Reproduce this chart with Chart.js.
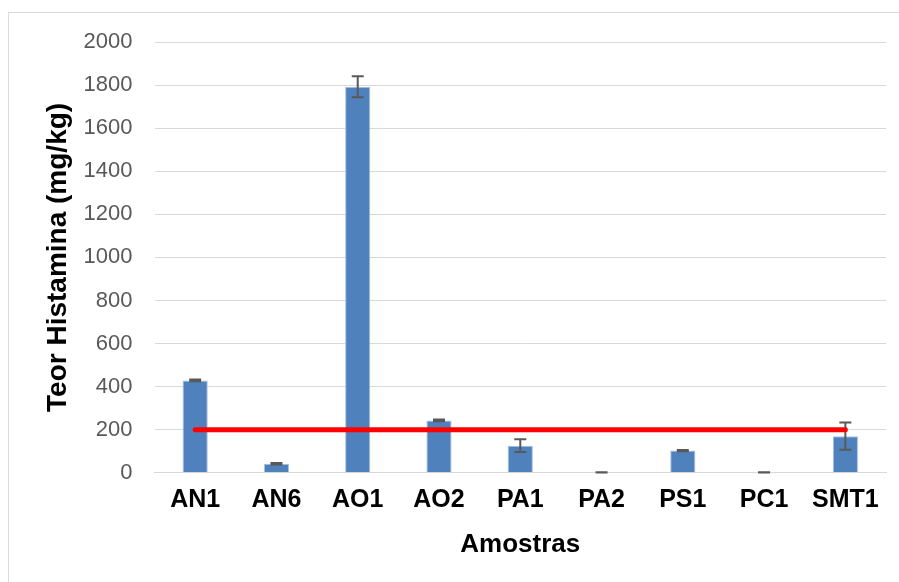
<!DOCTYPE html>
<html>
<head>
<meta charset="utf-8">
<script src="https://cdn.jsdelivr.net/npm/chart.js@4/dist/chart.umd.min.js"></script>
<style>
html,body{margin:0;padding:0;background:#fff;}
#frame{position:absolute;left:8px;top:12px;width:900px;height:580px;border-left:1px solid #d9d9d9;border-top:1px solid #d9d9d9;}
#wrap{position:absolute;left:0;top:0;width:899px;height:582px;}
</style>
</head>
<body>
<div id="frame"></div>
<div id="wrap"><canvas id="c" width="899" height="582"></canvas></div>
<script>
const categories = ['AN1','AN6','AO1','AO2','PA1','PA2','PS1','PC1','SMT1'];
const histamine = [429, 42, 1792, 243, 126, 2, 103, 2, 170];
const errors = [4, 4, 49, 4, 30, 1, 3, 1, 63];
const limitValue = [200, 200, 200, 200, 200, 200, 200, 200, 200];
const yTicks = [0,200,400,600,800,1000,1200,1400,1600,1800,2000];

const errorBars = {
  id: 'errorBars',
  afterDatasetDraw(chart, args) {
    if (args.index !== 0) return;
    const ctx = chart.ctx;
    const y = chart.scales.y;
    const meta = args.meta;
    ctx.save();
    ctx.strokeStyle = '#595959';
    ctx.lineWidth = 2;
    meta.data.forEach((bar, i) => {
      const v = histamine[i], e = errors[i];
      const yt = y.getPixelForValue(v + e), yb = y.getPixelForValue(v - e);
      const x = bar.x, w = 6;
      ctx.beginPath();
      ctx.moveTo(x, yt); ctx.lineTo(x, yb);
      ctx.moveTo(x - w, yt); ctx.lineTo(x + w, yt);
      ctx.moveTo(x - w, yb); ctx.lineTo(x + w, yb);
      ctx.stroke();
    });
    ctx.restore();
  }
};

new Chart(document.getElementById('c'), {
  data: {
    labels: categories,
    datasets: [
      {
        type: 'bar',
        data: histamine,
        backgroundColor: '#4F81BD',
        borderColor: '#A9C1DE',
        borderWidth: 1,
        barPercentage: 0.31,
        categoryPercentage: 1,
        order: 2
      },
      {
        type: 'line',
        data: limitValue,
        borderColor: '#FF0000',
        borderWidth: 5,
        borderCapStyle: 'round',
        pointRadius: 0,
        fill: false,
        order: 1
      }
    ]
  },
  options: {
    responsive: false,
    animation: false,
    layout: { padding: { top: 42, right: 13, bottom: 18, left: 37 } },
    plugins: { legend: { display: false }, tooltip: { enabled: false } },
    scales: {
      x: {
        grid: { display: false, drawTicks: false },
        border: { display: true, color: '#d9d9d9', width: 1 },
        ticks: { color: '#000', font: { family: 'Liberation Sans, Arial', size: 25, weight: 'bold' }, padding: 12 },
        title: { display: true, text: 'Amostras', color: '#000', font: { family: 'Liberation Sans, Arial', size: 26, weight: 'bold' }, padding: { top: 2 } }
      },
      y: {
        min: 0, max: 2000,
        afterBuildTicks(scale) { scale.ticks = yTicks.map(v => ({ value: v })); },
        grid: { color: '#d9d9d9', lineWidth: 1, drawTicks: false },
        border: { display: false },
        ticks: { color: '#595959', font: { family: 'Liberation Sans, Arial', size: 22 }, padding: 22, callback: v => String(v) },
        title: { display: true, text: 'Teor Histamina (mg/kg)', color: '#000', font: { family: 'Liberation Sans, Arial', size: 28, weight: 'bold' }, padding: { top: 4, bottom: -13 } }
      }
    }
  },
  plugins: [errorBars]
});
</script>
</body>
</html>
